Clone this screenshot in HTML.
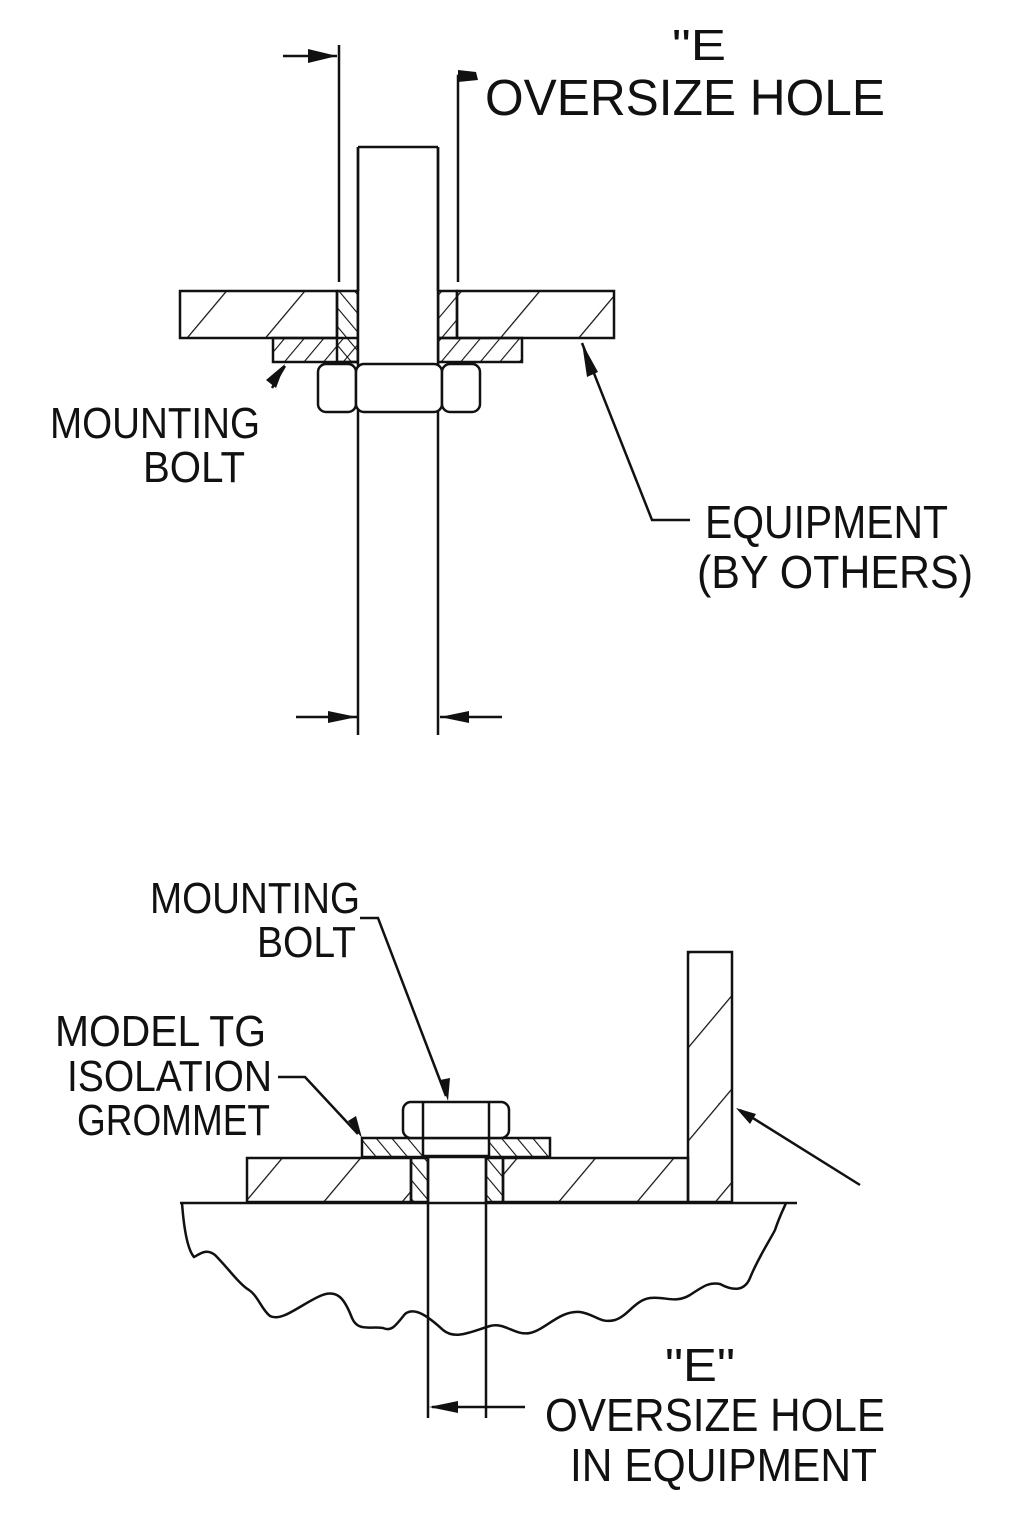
<!DOCTYPE html>
<html><head><meta charset="utf-8"><style>html,body{margin:0;padding:0;background:#fff}svg{display:block}</style></head>
<body>
<svg width="1024" height="1536" viewBox="0 0 1024 1536" xmlns="http://www.w3.org/2000/svg">
<defs>
<pattern id="hb" patternUnits="userSpaceOnUse" width="60" height="60" patternTransform="rotate(40)"><line x1="0" y1="0" x2="0" y2="60" stroke="#111" stroke-width="2.5"/></pattern>
<pattern id="hs" patternUnits="userSpaceOnUse" width="15" height="15" patternTransform="rotate(40)"><line x1="0" y1="0" x2="0" y2="15" stroke="#111" stroke-width="2.2"/></pattern>
<pattern id="hr" patternUnits="userSpaceOnUse" width="12" height="12" patternTransform="rotate(-40)"><line x1="0" y1="0" x2="0" y2="12" stroke="#111" stroke-width="2.2"/></pattern>
</defs>
<g fill="none" stroke="#111" stroke-width="2.5">
<!-- TOP -->
<rect x="180" y="291" width="157" height="47" fill="url(#hb)"/>
<rect x="457" y="291" width="157" height="47" fill="url(#hb)"/>
<rect x="273" y="338" width="85" height="24" fill="url(#hs)"/>
<rect x="438" y="338" width="84" height="24" fill="url(#hs)"/>
<rect x="337" y="291" width="21" height="71" fill="url(#hr)"/>
<rect x="438" y="291" width="19" height="47" fill="url(#hs)"/>
<line x1="358" y1="147" x2="358" y2="735"/>
<line x1="438" y1="147" x2="438" y2="735"/>
<line x1="358" y1="147" x2="438" y2="147"/>
<rect x="358" y="291" width="80" height="73" fill="#fff" stroke="none"/>
<line x1="358" y1="147" x2="358" y2="364"/><line x1="438" y1="147" x2="438" y2="364"/>
<rect x="318" y="364" width="38" height="48" rx="8" fill="#fff"/>
<rect x="356" y="364" width="86" height="48" rx="8" fill="#fff"/>
<rect x="442" y="364" width="38" height="48" rx="8" fill="#fff"/>
<line x1="339" y1="45" x2="339" y2="282"/>
<line x1="283" y1="56" x2="337" y2="56"/>
<polyline points="458,282 458,76 475,76"/>
<line x1="296" y1="717" x2="357" y2="717"/>
<line x1="502" y1="717" x2="440" y2="717"/>
<line x1="285" y1="366" x2="272" y2="388"/>
<polyline points="582,343 652,520 690,520"/>
<!-- BOTTOM -->
<rect x="247" y="1158" width="164" height="44" fill="url(#hb)"/>
<rect x="503" y="1158" width="185" height="44" fill="url(#hb)"/>
<rect x="688" y="952" width="44" height="250" fill="url(#hb)"/>
<rect x="411" y="1158" width="17" height="44" fill="url(#hr)"/>
<rect x="486" y="1158" width="17" height="44" fill="url(#hr)"/>
<rect x="362" y="1138" width="188" height="19" fill="url(#hr)"/>
<rect x="423" y="1138" width="66" height="18" fill="#fff"/>
<rect x="403" y="1102" width="106" height="36" rx="8" fill="#fff"/>
<line x1="423" y1="1102" x2="423" y2="1138"/><line x1="489" y1="1102" x2="489" y2="1138"/>
<line x1="180" y1="1203" x2="797" y2="1203"/>
<path d="M182,1203 C184,1230 188,1250 194,1257 C200,1254 206,1248 215,1255 C228,1268 240,1285 249,1290 C258,1296 262,1310 270,1316 C282,1322 300,1305 320,1296 C338,1288 345,1300 352,1318 C358,1332 370,1326 383,1328 C392,1332 396,1325 405,1314 C415,1306 430,1318 443,1330 C455,1340 470,1332 490,1326 C505,1322 515,1336 530,1333 C545,1330 560,1310 580,1312 C595,1314 600,1324 615,1320 C628,1316 635,1300 650,1298 C665,1296 675,1304 690,1295 C705,1285 710,1282 720,1284 C735,1292 745,1290 750,1278 C758,1258 770,1240 775,1230 C780,1215 784,1208 786,1203"/>
<line x1="428" y1="1157" x2="428" y2="1418"/>
<line x1="486" y1="1157" x2="486" y2="1418"/>
<line x1="432" y1="1407" x2="525" y2="1407"/>
<polyline points="360,918 378,918 446,1096"/>
<polyline points="278,1077 305,1077 358,1134"/>
<line x1="860" y1="1185" x2="740" y2="1110"/>
</g>
<g fill="#111">
<polygon points="337,56 308,49 308,63"/>
<polygon points="458,70 476,72 478,80 458,82"/>
<polygon points="357,717 328,711 328,723"/>
<polygon points="440,717 469,711 469,723"/>
<polygon points="285,364 266,380 276,388"/>
<polygon points="582,343 587,377 598,372"/>
<polygon points="429,1407 458,1401 458,1413"/>
<polygon points="448,1101 440,1080 450,1078"/>
<polygon points="362,1138 348,1121 356,1116"/>
<polygon points="736,1108 756,1114 750,1124"/>
</g>
<g font-family="Liberation Sans, sans-serif" fill="#111" font-size="46" lengthAdjust="spacingAndGlyphs">
<text x="672" y="60" textLength="54" lengthAdjust="spacingAndGlyphs" font-size="44">"E</text>
<text x="485" y="115" textLength="400" lengthAdjust="spacingAndGlyphs" font-size="51">OVERSIZE HOLE</text>
<text x="50" y="438" textLength="210" lengthAdjust="spacingAndGlyphs" font-size="44">MOUNTING</text>
<text x="143" y="482" textLength="102" lengthAdjust="spacingAndGlyphs" font-size="44">BOLT</text>
<text x="705" y="538" textLength="243" lengthAdjust="spacingAndGlyphs">EQUIPMENT</text>
<text x="697" y="588" textLength="276" lengthAdjust="spacingAndGlyphs">(BY OTHERS)</text>
<text x="150" y="913" textLength="210" lengthAdjust="spacingAndGlyphs" font-size="44">MOUNTING</text>
<text x="257" y="957" textLength="99" lengthAdjust="spacingAndGlyphs" font-size="44">BOLT</text>
<text x="55" y="1046" textLength="211" lengthAdjust="spacingAndGlyphs" font-size="44">MODEL TG</text>
<text x="67" y="1091" textLength="205" lengthAdjust="spacingAndGlyphs" font-size="44">ISOLATION</text>
<text x="77" y="1135" textLength="193" lengthAdjust="spacingAndGlyphs" font-size="44">GROMMET</text>
<text x="665" y="1381" textLength="70" lengthAdjust="spacingAndGlyphs">"E"</text>
<text x="545" y="1431" textLength="340" lengthAdjust="spacingAndGlyphs">OVERSIZE HOLE</text>
<text x="570" y="1481" textLength="307" lengthAdjust="spacingAndGlyphs">IN EQUIPMENT</text>
</g>
</svg>
</body></html>
